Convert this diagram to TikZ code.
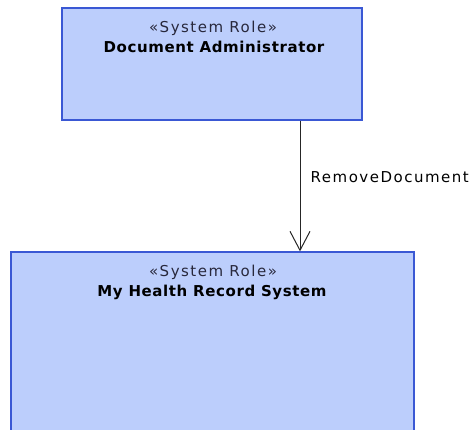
\documentclass[tikz,border=0pt]{standalone}
\usepackage{fontspec}
\setmainfont{DejaVu Sans}
\newfontfamily\stfont[LetterSpace=10]{DejaVu Sans}
\newfontfamily\bdfont[LetterSpace=4]{DejaVu Sans Bold}
\usetikzlibrary{arrows.meta}
\definecolor{boxfill}{RGB}{188,206,252}
\definecolor{boxline}{RGB}{58,88,212}
\definecolor{sttext}{RGB}{40,40,60}
\tikzset{
  rolebox/.style={draw=boxline, fill=boxfill, line width=1.2pt, inner sep=0pt},
  stereo/.style={anchor=base, inner sep=0pt, text=sttext, font=\stfont\fontsize{15}{18}\selectfont},
  rname/.style={anchor=base, inner sep=0pt, text=black, font=\bdfont\fontsize{15}{18}\selectfont},
  conn/.style={draw=black!85, line width=1pt, -{Straight Barb[length=19pt,width=20pt,line width=1pt]}},
  clabel/.style={anchor=base west, inner sep=0pt, font=\stfont\fontsize{15}{18}\selectfont}
}
\begin{document}
\begin{tikzpicture}[x=1pt,y=-1pt]
\useasboundingbox (0,0) rectangle (474,430);
\clip (0,0) rectangle (474,430);
\node[rolebox, minimum width=300pt, minimum height=112pt] (admin) at (212,64) {};
\node[rolebox, minimum width=403pt, minimum height=200pt] (mhr) at (212.5,352) {};
\node[stereo] (admin-st) at (213,33) {«System Role»};
\node[rname] (admin-nm) at (214,52.5) {Document Administrator};
\node[stereo] (mhr-st) at (213,277) {«System Role»};
\node[rname] (mhr-nm) at (212,297) {My Health Record System};
\coordinate (src) at (admin.south -| 300,0);
\coordinate (dst) at (mhr.north -| 300,0);
\draw[conn] (src) -- (dst);
\node[clabel] (lbl) at (310.5,183) {RemoveDocument};
\end{tikzpicture}
\end{document}
